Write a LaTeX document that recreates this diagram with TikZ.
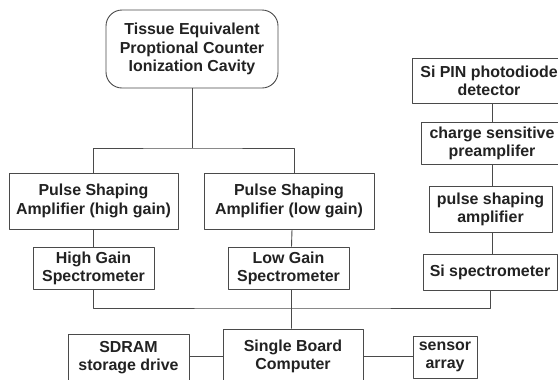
\documentclass[tikz,border=0pt]{standalone}
\usepackage{fontspec}
\setmainfont{Liberation Sans}[BoldFont={Liberation Sans Bold}]
\usepackage{tikz}
\usetikzlibrary{positioning, calc}

\definecolor{boxline}{HTML}{4A4A4A}
\definecolor{boxtext}{HTML}{222222}

\tikzset{
    unitbox/.style={draw=boxline, line width=0.9bp, align=center, inner sep=0pt,
                    text=boxtext, font=\bfseries\fontsize{16}{18.3}\selectfont},
    wire/.style={draw=boxline, line width=0.9bp}
}

\begin{document}
\begin{tikzpicture}[x=1bp, y=-1bp, line join=round]
        \useasboundingbox (0, 0) rectangle (558, 379);
        \fill[white] (0, 0) rectangle (558, 379);
        % detector chain on the left
        \node[unitbox, rounded corners=16bp, minimum width=172bp, minimum height=78bp]
            (tepc) at (192, 49) {Tissue Equivalent\\Proptional Counter\\Ionization Cavity};
        \node[unitbox, minimum width=169bp, minimum height=56bp]
            (amphi) at (93.5, 201) {Pulse Shaping\\Amplifier (high gain)};
        \node[unitbox, minimum width=170bp, minimum height=56bp]
            (amplo) at (289, 201) {Pulse Shaping\\Amplifier (low gain)};
        \node[unitbox, minimum width=121bp, minimum height=42bp]
            (spechi) at (93.5, 268) {High Gain\\Spectrometer};
        \node[unitbox, minimum width=121bp, minimum height=42bp]
            (speclo) at (288.5, 268) {Low Gain\\Spectrometer};
        % silicon chain on the right
        \node[unitbox, minimum width=154bp, minimum height=45bp]
            (sipin) at (489, 80.5) {Si PIN photodiode\\detector};
        \node[unitbox, minimum width=142bp, minimum height=42bp]
            (csa) at (492, 143) {charge sensitive\\preamplifer};
        \node[unitbox, minimum width=123bp, minimum height=46bp]
            (psa) at (490.5, 209) {pulse shaping\\amplifier};
        \node[unitbox, minimum width=134bp, minimum height=36bp]
            (sispec) at (490, 272) {Si spectrometer};
        % computer row
        \node[unitbox, minimum width=140bp, minimum height=54bp]
            (sbc) at (293, 356) {Single Board\\Computer};
        \node[unitbox, minimum width=121bp, minimum height=47bp]
            (sdram) at (128.5, 357.5) {SDRAM\\storage drive};
        \node[unitbox, minimum width=64bp, minimum height=42bp]
            (sensor) at (445, 357) {sensor\\array};
        \coordinate (split) at (192, 148);
        \coordinate (bus) at (293, 308);
        \draw[wire] (tepc.south) -- (split);
        \draw[wire] (amphi.north) |- (split) -| ([xshift=5bp]amplo.north);
        \draw[wire] (amphi) -- (spechi);
        \draw[wire] ([xshift=3bp]amplo.south) -- ([xshift=3bp]speclo.north);
        \draw[wire] (spechi.south) |- (bus) -| (sispec.south);
        \draw[wire] ([xshift=3bp]speclo.south) -- (sbc.north -| {$(speclo.south)+(3,0)$});
        \draw[wire] (sipin.south -| csa.north) -- (csa.north);
        \draw[wire] (csa.south) -- (csa.south |- psa.north);
        \draw[wire] (csa.south |- psa.south) -- (csa.south |- sispec.north);
        \draw[wire] (sdram.east |- sbc.center) -- (sbc.west);
        \draw[wire] (sbc.east |- sbc.center) -- (sensor.west |- sbc.center);
    \end{tikzpicture}
\end{document}
